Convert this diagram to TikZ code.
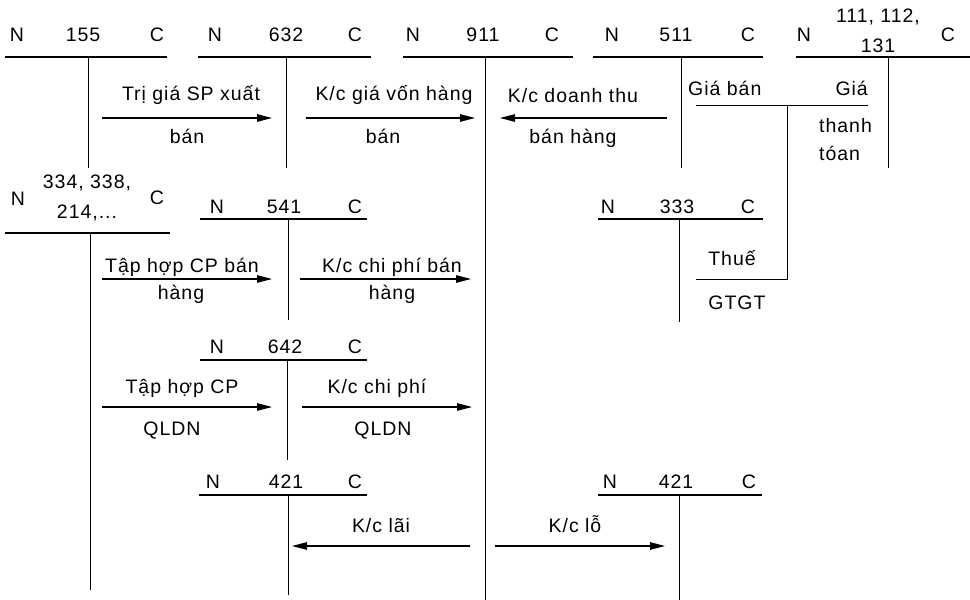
\documentclass[tikz,border=0pt]{standalone}
\usepackage{fontspec}
\setmainfont{Liberation Sans}[LetterSpace=5]
\usetikzlibrary{arrows.meta, positioning}

\begin{document}
\begin{tikzpicture}[x=1pt, y=-1pt,
  lbl/.style={anchor=base, inner sep=0pt, font=\fontsize{19.5}{22}\selectfont},
  tline/.style={line width=1.3pt},
  vline/.style={line width=1pt},
  arr/.style={line width=1.1pt, -{Triangle[length=15pt,width=7.5pt]}}]
  \useasboundingbox (0,0) rectangle (970,600);

  % Account 155
  \node[lbl] (n155) at (17,41.5) {N};
  \node[lbl] (t155) at (83,41.5) {155};
  \node[lbl] (c155) at (157,41.5) {C};
  \draw[tline] (5,57) -- (167,57);
  \draw[vline] (88,57) -- (88,168);

  % Account 632
  \node[lbl] (n632) at (215,41.5) {N};
  \node[lbl] (t632) at (286,41.5) {632};
  \node[lbl] (c632) at (355,41.5) {C};
  \draw[tline] (198,57) -- (371,57);
  \draw[vline] (286,57) -- (286,168);

  % Account 911
  \node[lbl] (n911) at (413,41.5) {N};
  \node[lbl] (t911) at (483,41.5) {911};
  \node[lbl] (c911) at (552,41.5) {C};
  \draw[tline] (403,57) -- (573,57);
  \draw[vline] (485,57) -- (485,600);

  % Account 511
  \node[lbl] (n511) at (612,41.5) {N};
  \node[lbl] (t511) at (676,41.5) {511};
  \node[lbl] (c511) at (748,41.5) {C};
  \draw[tline] (593,57) -- (763,57);
  \draw[vline] (681,57) -- (681,168);

  % Account 111, 112, 131
  \node[lbl] (n111) at (804,41.5) {N};
  \node[lbl] (t111a) at (878,22) {111, 112,};
  \node[lbl] (t111b) at (878,52) {131};
  \node[lbl] (c111) at (948,41.5) {C};
  \draw[tline] (796,57) -- (970,57);
  \draw[vline] (888,57) -- (888,168);

  % first row of transfers
  \coordinate (a1s) at (102,118);
  \coordinate (a1e) at (272,118);
  \draw[arr] (a1s) -- (a1e);
  \node[lbl] (l1a) at (191,100) {Trị giá SP xuất};
  \node[lbl] (l1b) at (187,143) {bán};

  \coordinate (a2s) at (306,118);
  \coordinate (a2e) at (475,118);
  \draw[arr] (a2s) -- (a2e);
  \node[lbl] (l2a) at (394,100) {K/c giá vốn hàng};
  \node[lbl] (l2b) at (383,143) {bán};

  \coordinate (a3s) at (667,118);
  \coordinate (a3e) at (500,118);
  \draw[arr] (a3s) -- (a3e);
  \node[lbl] (l3a) at (573,102) {K/c doanh thu};
  \node[lbl] (l3b) at (573,143) {bán hàng};

  % selling price split
  \node[lbl, anchor=base west] (gb) at (688,95) {Giá bán};
  \node[lbl, anchor=base east] (gia) at (868,95) {Giá};
  \node[lbl, anchor=base west] (thanh) at (819,132) {thanh};
  \node[lbl, anchor=base west] (toan) at (819,160) {tóan};
  \draw[vline] (696,105) -- (868,105);
  \draw[vline] (787,105) -- (787,279) -- (696,279);

  % Account 334, 338, 214
  \node[lbl] (n334) at (18,205) {N};
  \node[lbl] (t334a) at (87,188) {334, 338,};
  \node[lbl] (t334b) at (87,218) {214,...};
  \node[lbl] (c334) at (157,204) {C};
  \draw[tline] (5,233) -- (170,233);
  \draw[vline] (90,233) -- (90,590);

  % Account 541
  \node[lbl] (n541) at (217,213) {N};
  \node[lbl] (t541) at (284,213) {541};
  \node[lbl] (c541) at (355,213) {C};
  \draw[tline] (200,219) -- (367,219);
  \draw[vline] (288,219) -- (288,320);

  \coordinate (a4s) at (102,279);
  \coordinate (a4e) at (272,279);
  \draw[arr] (a4s) -- (a4e);
  \node[lbl] (l4a) at (182,272) {Tập hợp CP bán};
  \node[lbl] (l4b) at (181,299) {hàng};

  \coordinate (a5s) at (300,279);
  \coordinate (a5e) at (471,279);
  \draw[arr] (a5s) -- (a5e);
  \node[lbl] (l5a) at (392,272) {K/c chi phí bán};
  \node[lbl] (l5b) at (392,299) {hàng};

  % Account 333
  \node[lbl] (n333) at (608,213) {N};
  \node[lbl] (t333) at (677,213) {333};
  \node[lbl] (c333) at (748,213) {C};
  \draw[tline] (598,219) -- (763,219);
  \draw[vline] (679,219) -- (679,322);
  \node[lbl] (thue) at (732,265) {Thuế};
  \node[lbl] (gtgt) at (737,309) {GTGT};

  % Account 642
  \node[lbl] (n642) at (217,353) {N};
  \node[lbl] (t642) at (285,353) {642};
  \node[lbl] (c642) at (355,353) {C};
  \draw[tline] (200,360) -- (367,360);
  \draw[vline] (287,360) -- (287,460);

  \coordinate (a6s) at (102,407);
  \coordinate (a6e) at (272,407);
  \draw[arr] (a6s) -- (a6e);
  \node[lbl] (l6a) at (182,393) {Tập hợp CP};
  \node[lbl] (l6b) at (172,435) {QLDN};

  \coordinate (a7s) at (302,407);
  \coordinate (a7e) at (472,407);
  \draw[arr] (a7s) -- (a7e);
  \node[lbl] (l7a) at (377,393) {K/c chi phí};
  \node[lbl] (l7b) at (383,435) {QLDN};

  % Account 421 (profit)
  \node[lbl] (n421a) at (213,488) {N};
  \node[lbl] (t421a) at (286,488) {421};
  \node[lbl] (c421a) at (355,488) {C};
  \draw[tline] (199,495) -- (367,495);
  \draw[vline] (288,495) -- (288,595);

  % Account 421 (loss)
  \node[lbl] (n421b) at (610,488) {N};
  \node[lbl] (t421b) at (676,488) {421};
  \node[lbl] (c421b) at (749,488) {C};
  \draw[tline] (598,495) -- (762,495);
  \draw[vline] (679,495) -- (679,600);

  \coordinate (a8s) at (470,546);
  \coordinate (a8e) at (292,546);
  \draw[arr] (a8s) -- (a8e);
  \node[lbl] (l8) at (381,532) {K/c lãi};

  \coordinate (a9s) at (495,546);
  \coordinate (a9e) at (665,546);
  \draw[arr] (a9s) -- (a9e);
  \node[lbl] (l9) at (575,532) {K/c lỗ};

\end{tikzpicture}
\end{document}
